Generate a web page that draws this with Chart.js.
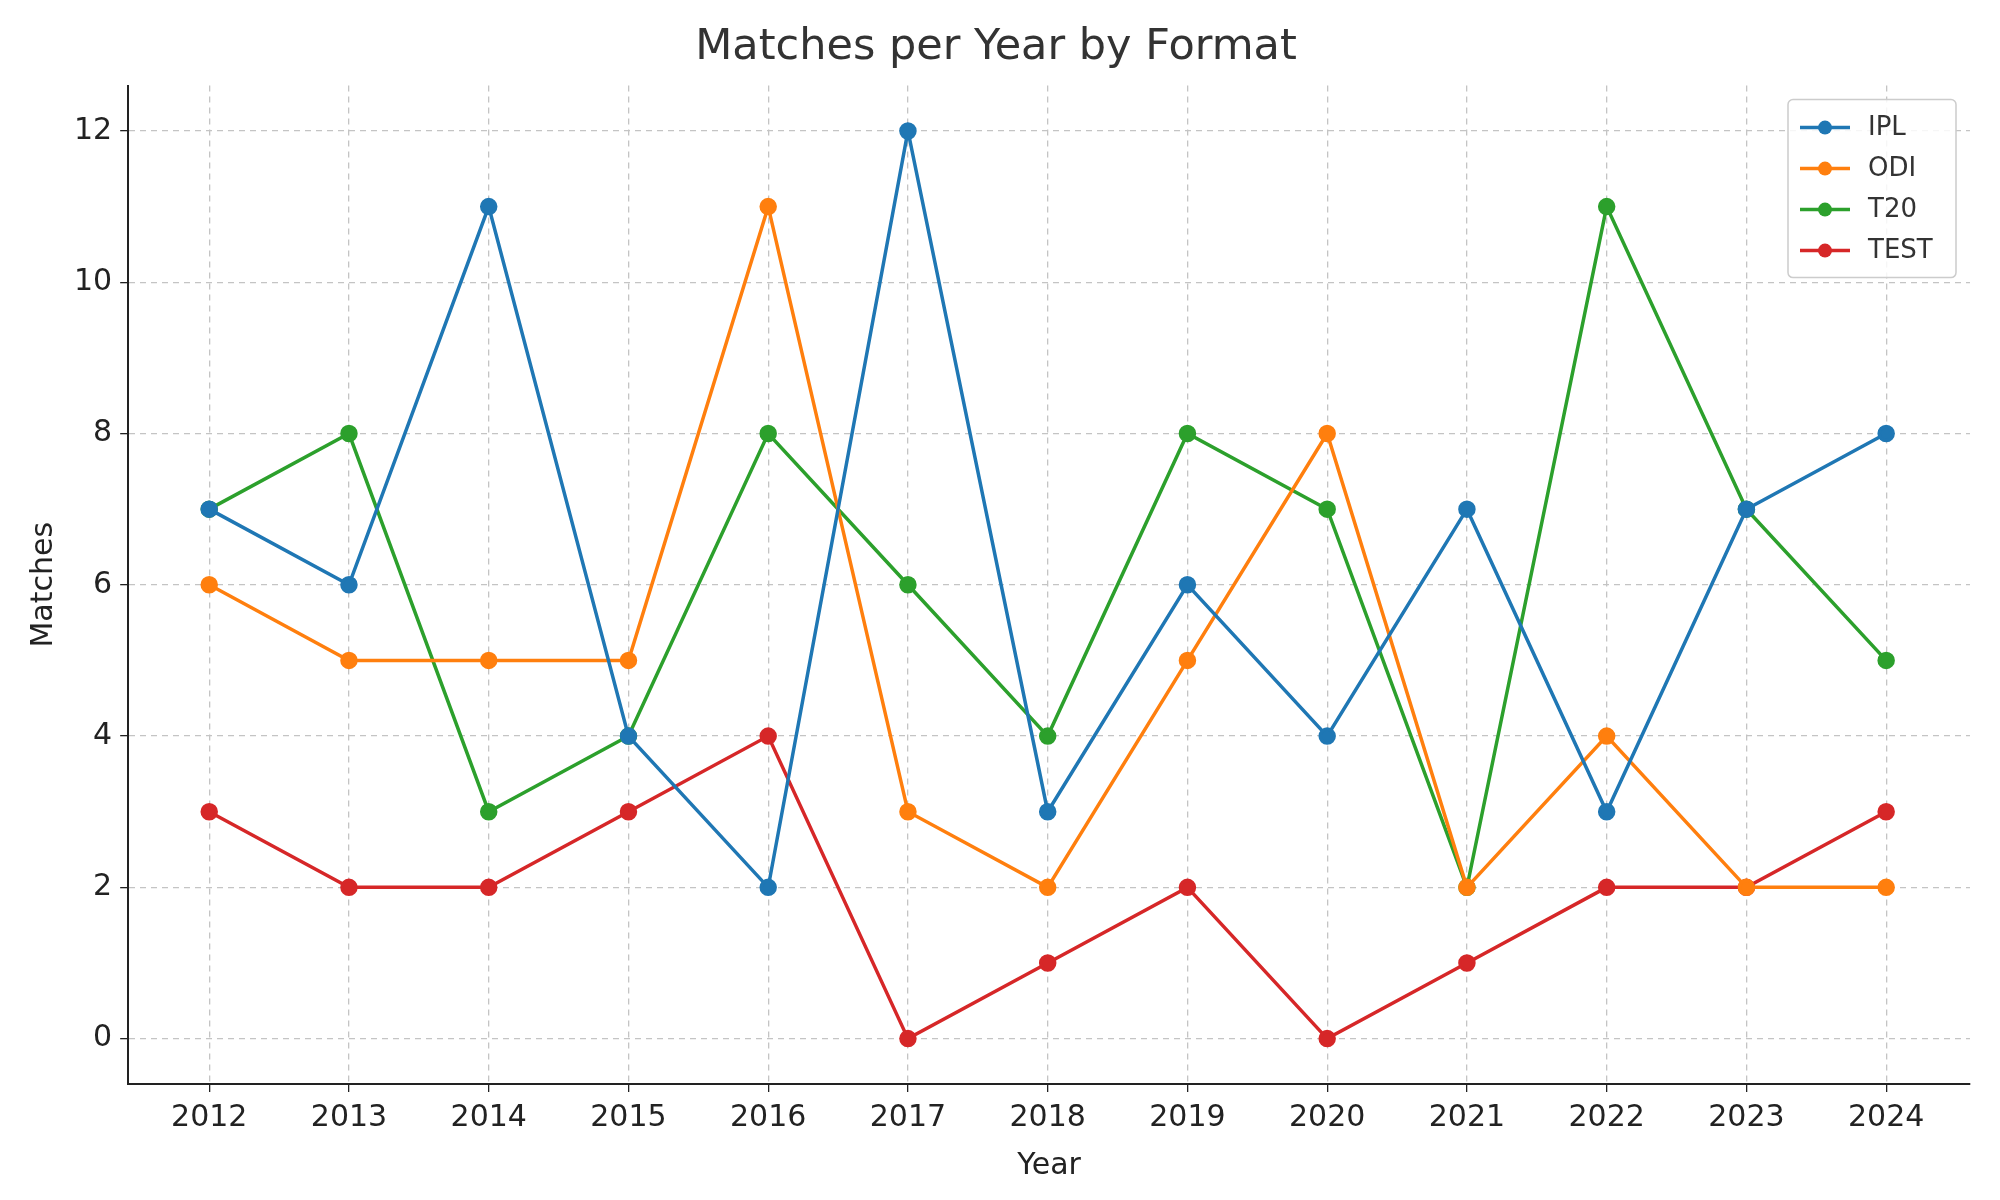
<!DOCTYPE html>
<html>
<head>
<meta charset="utf-8">
<script src="https://cdn.jsdelivr.net/npm/chart.js@4.4.0/dist/chart.umd.min.js"></script>
<style>
  html, body { margin: 0; padding: 0; background: #fff; }
  #wrap { width: 2000px; height: 1200px; }
</style>
</head>
<body>
<div id="wrap"><canvas id="chart" width="2000" height="1200"></canvas></div>
<script>
const years = [2012, 2013, 2014, 2015, 2016, 2017, 2018, 2019, 2020, 2021, 2022, 2023, 2024];
const ipl  = [7, 6, 11, 4, 2, 12, 3, 6, 4, 7, 3, 7, 8];
const odi  = [6, 5, 5, 5, 11, 3, 2, 5, 8, 2, 4, 2, 2];
const t20  = [7, 8, 3, 4, 8, 6, 4, 8, 7, 2, 11, 7, 5];
const test = [3, 2, 2, 3, 4, 0, 1, 2, 0, 1, 2, 2, 3];
const yTicks = [0, 2, 4, 6, 8, 10, 12];

const FONT = 'DejaVu Sans';

function series(label, values, color) {
    return {
        label: label,
        data: years.map((y, i) => ({ x: y, y: values[i] })),
        borderColor: color,
        backgroundColor: color,
        borderWidth: 3.5,
        pointRadius: 7,
        pointHoverRadius: 7,
        tension: 0
    };
}

// legend inside the plot, upper right
const innerLegend = {
    id: 'innerLegend',
    afterDraw(chart) {
        const { ctx, chartArea } = chart;
        const sets = chart.data.datasets;
        const rowH = 41, w = 168, h = rowH * sets.length + 14;
        const x0 = chartArea.right - w - 14, y0 = chartArea.top + 14;
        ctx.save();
        ctx.fillStyle = 'rgba(255,255,255,0.85)';
        ctx.strokeStyle = '#cccccc';
        ctx.lineWidth = 1.5;
        ctx.beginPath();
        ctx.roundRect(x0, y0, w, h, 5);
        ctx.fill();
        ctx.stroke();
        ctx.font = '26px ' + FONT;
        ctx.textBaseline = 'middle';
        sets.forEach((ds, i) => {
            const cy = y0 + 28 + i * rowH;
            ctx.strokeStyle = ds.borderColor;
            ctx.lineWidth = 3.5;
            ctx.beginPath();
            ctx.moveTo(x0 + 12, cy);
            ctx.lineTo(x0 + 62, cy);
            ctx.stroke();
            ctx.fillStyle = ds.borderColor;
            ctx.beginPath();
            ctx.arc(x0 + 37, cy, 7, 0, Math.PI * 2);
            ctx.fill();
            ctx.fillStyle = '#333333';
            ctx.fillText(ds.label, x0 + 80, cy + 1);
        });
        ctx.restore();
    }
};

new Chart(document.getElementById('chart').getContext('2d'), {
    type: 'line',
    data: {
        datasets: [
            series('IPL', ipl, '#1f77b4'),
            series('ODI', odi, '#ff7f0e'),
            series('T20', t20, '#2ca02c'),
            series('TEST', test, '#d62728')
        ]
    },
    options: {
        responsive: false,
        animation: false,
        layout: { padding: { left: 22, right: 30, top: 10, bottom: 12 } },
        plugins: {
            legend: { display: false },
            tooltip: { enabled: false },
            title: {
                display: true,
                text: 'Matches per Year by Format',
                color: '#333333',
                font: { family: FONT, size: 43, weight: 'normal' },
                padding: { top: 12, bottom: 12 }
            }
        },
        scales: {
            x: {
                type: 'linear',
                min: 2011.42,
                max: 2024.6,
                afterBuildTicks: (axis) => { axis.ticks = years.map(v => ({ value: v })); },
                ticks: { color: '#222', font: { family: FONT, size: 30 }, callback: v => String(v), padding: 8 },
                grid: { color: '#c4c4c4', lineWidth: 1.3, tickLength: 8, tickColor: '#222' },
                border: { display: true, color: '#222', width: 2, dash: [6, 5] },
                title: { display: true, text: 'Year', color: '#222', font: { family: FONT, size: 30 } }
            },
            y: {
                min: -0.6,
                max: 12.6,
                afterBuildTicks: (axis) => { axis.ticks = yTicks.map(v => ({ value: v })); },
                ticks: { color: '#222', font: { family: FONT, size: 30 }, padding: 8 },
                grid: { color: '#c4c4c4', lineWidth: 1.3, tickLength: 8, tickColor: '#222' },
                border: { display: true, color: '#222', width: 2, dash: [6, 5] },
                title: { display: true, text: 'Matches', color: '#222', font: { family: FONT, size: 30 } }
            }
        }
    },
    plugins: [innerLegend]
});
</script>
</body>
</html>
